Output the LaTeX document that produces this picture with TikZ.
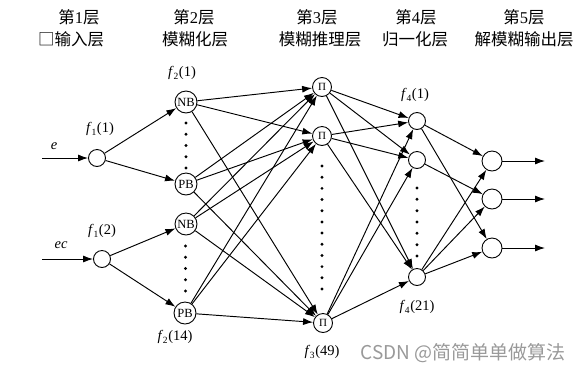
\documentclass[tikz,border=0pt]{standalone}
\usepackage{fontspec}
\setmainfont{Liberation Serif}
\newfontfamily\cjk{Noto Sans CJK SC}
\usetikzlibrary{arrows.meta}
\newcommand\flab[2]{\textit{f}\kern-0.3pt\raisebox{-2.8pt}{\fontsize{9.5}{9.5}\selectfont #1}\kern0.6pt(#2)}
\begin{document}
\begin{tikzpicture}[x=1pt,y=-1pt,
  neuron/.style={circle,draw,line width=0.9pt,inner sep=0pt,fill=white},
  conn/.style={line width=0.95pt,-{Latex[length=10pt,width=7pt]}},
  dotmark/.style={circle,fill,inner sep=0pt,minimum size=3.2pt},
  hdr/.style={font=\cjk\fontsize{16.5}{16.5}\selectfont,inner sep=0pt},
  flabel/.style={font=\fontsize{14.5}{14.5}\selectfont,inner sep=0pt},
  nlab/.style={font=\fontsize{12.5}{12.5}\selectfont},
]
\useasboundingbox (0,0) rectangle (585,373);

% headers
\node[hdr] (h1a) at (79,17) {第\fontspec{Liberation Serif}1\cjk 层};
\node[hdr] (h1b) at (71,39) {□输入层};
\node[hdr] (h2a) at (194,17) {第\fontspec{Liberation Serif}2\cjk 层};
\node[hdr] (h2b) at (195,39) {模糊化层};
\node[hdr] (h3a) at (317,17) {第\fontspec{Liberation Serif}3\cjk 层};
\node[hdr] (h3b) at (320,39) {模糊推理层};
\node[hdr] (h4a) at (416,17) {第\fontspec{Liberation Serif}4\cjk 层};
\node[hdr] (h4b) at (415,39) {归一化层};
\node[hdr] (h5a) at (524,17) {第\fontspec{Liberation Serif}5\cjk 层};
\node[hdr] (h5b) at (524,39) {解模糊输出层};

% layer 1
\node[neuron,minimum size=17pt] (i1) at (97,158) {};
\node[neuron,minimum size=17pt] (i2) at (102,259) {};
\coordinate (ie) at (42,158);
\coordinate (iec) at (42,259);
\node[flabel,font=\itshape\fontsize{14.5}{14.5}\selectfont] (le) at (54,146) {e};
\node[flabel,font=\itshape\fontsize{14.5}{14.5}\selectfont] (lec) at (61,245) {ec};
\node[flabel] (lf11) at (100,129) {\flab{1}{1}};
\node[flabel] (lf12) at (102,231) {\flab{1}{2}};

% layer 2
\node[neuron,minimum size=22pt,nlab] (nb1) at (186,102) {NB};
\node[neuron,minimum size=22pt,nlab] (pb1) at (186,184) {PB};
\node[neuron,minimum size=22pt,nlab] (nb2) at (186,224) {NB};
\node[neuron,minimum size=22pt,nlab] (pb2) at (185,313) {PB};
\node[flabel] (lf21) at (182,73) {\flab{2}{1}};
\node[flabel] (lf214) at (175,337) {\flab{2}{14}};
\foreach \k in {0,...,4} {
  \node[dotmark] (da\k) at (186,{123+11.25*\k}) {};
  \node[dotmark] (db\k) at (185.5,{246+11.25*\k}) {};
}

% layer 3
\node[neuron,minimum size=19pt,font=\fontsize{11}{11}\selectfont] (p1) at (322,87) {Π};
\node[neuron,minimum size=19pt,font=\fontsize{11}{11}\selectfont] (p2) at (322,136) {Π};
\node[neuron,minimum size=19pt,font=\fontsize{11}{11}\selectfont] (p3) at (323,323) {Π};
\node[flabel] (lf349) at (322,352) {\flab{3}{49}};
\foreach \k in {0,...,11} {
  \node[dotmark] (dc\k) at (322,{166+11.18*\k}) {};
}

% layer 4
\node[neuron,minimum size=17pt] (q1) at (417,121) {};
\node[neuron,minimum size=17pt] (q2) at (417,160) {};
\node[neuron,minimum size=17pt] (q3) at (417,277) {};
\node[flabel] (lf41) at (415,95) {\flab{4}{1}};
\node[flabel] (lf421) at (417,307) {\flab{4}{21}};
\foreach \k in {0,...,6} {
  \node[dotmark] (dd\k) at (417,{188+11.33*\k}) {};
}

% layer 5
\node[neuron,minimum size=20pt] (o1) at (492,161) {};
\node[neuron,minimum size=20pt] (o2) at (492,199) {};
\node[neuron,minimum size=20pt] (o3) at (492,248) {};
\coordinate (e1) at (545,161);
\coordinate (e2) at (545,199);
\coordinate (e3) at (545,248);

% connectors
\draw[conn] (ie) -- (i1);
\draw[conn] (iec) -- (i2);
\draw[conn] (i1) -- (nb1);
\draw[conn] (i1) -- (pb1);
\draw[conn] (i2) -- (nb2);
\draw[conn] (i2) -- (pb2);
\foreach \s in {nb1,pb1,nb2,pb2} {
  \foreach \t in {p1,p2,p3} {
    \draw[conn] (\s) -- (\t);
  }
}
\foreach \s in {p1,p2,p3} {
  \foreach \t in {q1,q2,q3} {
    \draw[conn] (\s) -- (\t);
  }
}
\draw[conn] (q1) -- (o1);
\draw[conn] (q1) -- (o3);
\draw[conn] (q2) -- (o2);
\draw[conn] (q3) -- (o1);
\draw[conn] (q3) -- (o2);
\draw[conn] (q3) -- (o3);
\draw[conn] (o1) -- (e1);
\draw[conn] (o2) -- (e2);
\draw[conn] (o3) -- (e3);

% watermark
\node[font=\cjk\fontsize{19}{19}\selectfont,text=black!40,inner sep=0pt] (wm) at (463,353) {CSDN @简简单单做算法};
\end{tikzpicture}
\end{document}
